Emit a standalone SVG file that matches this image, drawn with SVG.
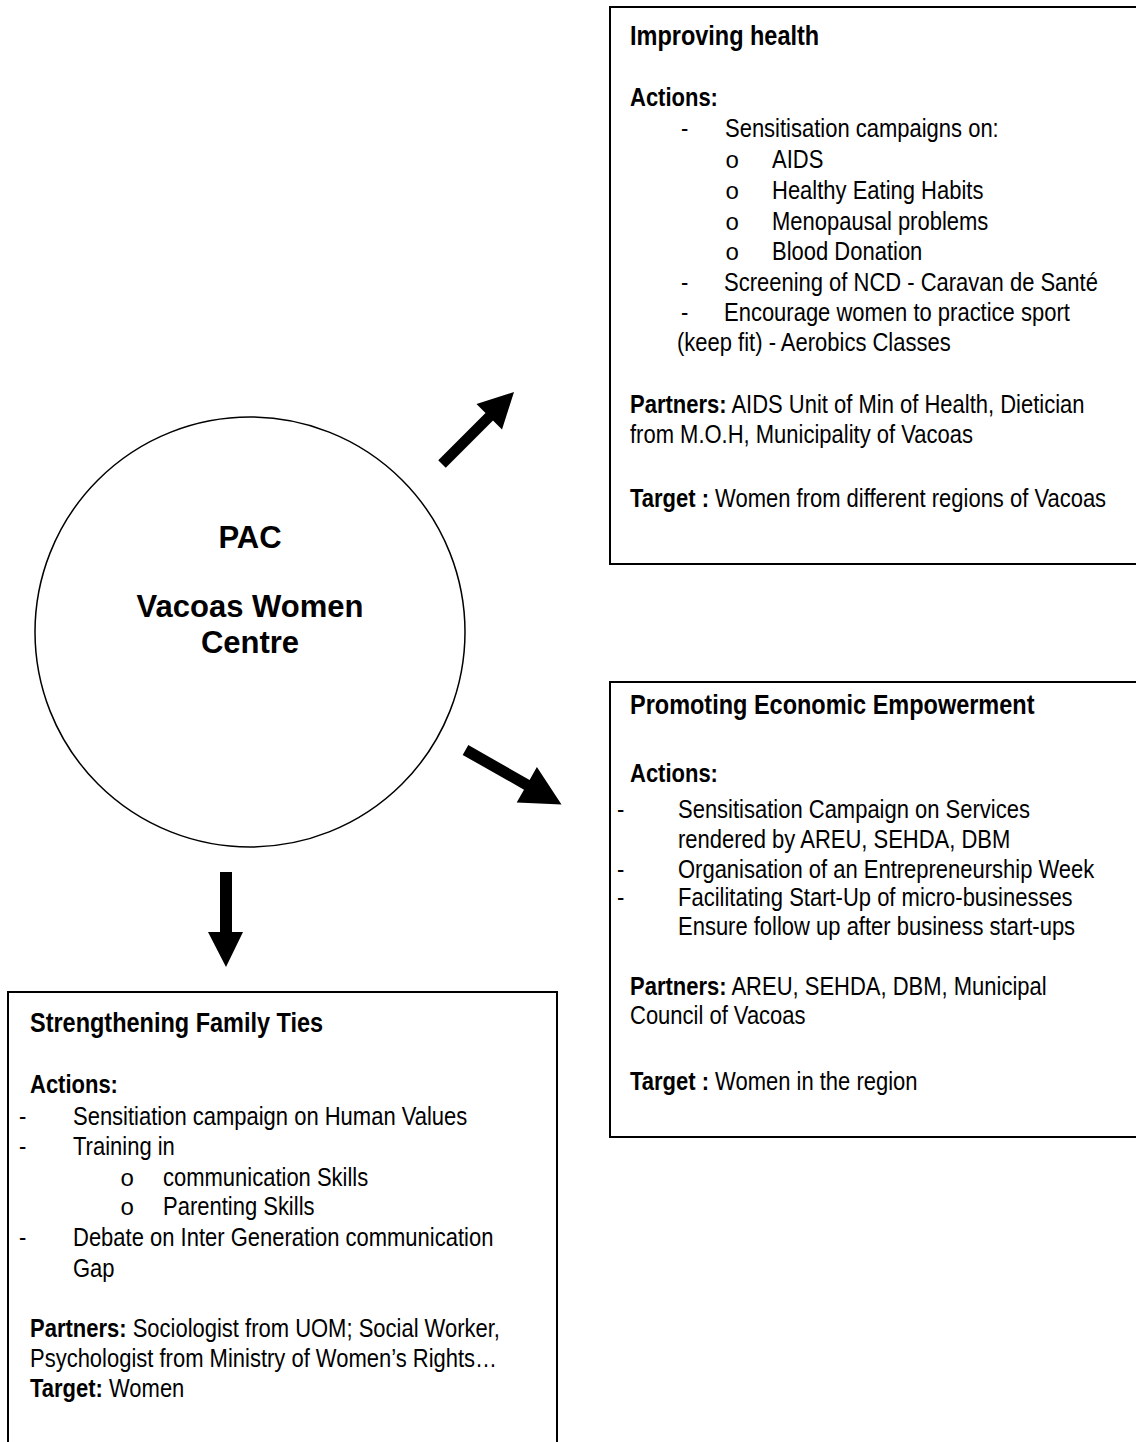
<svg xmlns="http://www.w3.org/2000/svg" width="1136" height="1442" viewBox="0 0 1136 1442">
<style>
.bx{fill:#fff;stroke:#000;stroke-width:2}
.ci{fill:#fff;stroke:#000;stroke-width:1.5}
.t{font-family:"Liberation Sans",Arial,sans-serif;font-size:22px;fill:#000}
.b{font-weight:bold}
.h{font-size:23.5px;font-weight:bold}
.m{font-family:"Liberation Mono","Courier New",monospace;font-size:24px;fill:#000}
.c{font-family:"Liberation Sans",Arial,sans-serif;font-size:31px;font-weight:bold;text-anchor:middle;fill:#000}
.ar{fill:#000;stroke:none}
</style>
<g id="connectors">
<polygon class="ar" points="438.25,460.25 485.5,413 476.5,404 514,392 502,429.5 493,420.5 445.75,467.75"/>
<polygon class="ar" points="468.3,745.1 529.6,779.9 536.9,767 561.5,804.6 516.7,802.6 524,789.7 462.7,754.9"/>
<polygon class="ar" points="220,872 232,872 232,932 243,932 226,967 208,932 220,932"/>
</g>
<g id="centre">
<circle class="ci" cx="250" cy="632" r="215"/>
<text class="c" x="250" y="548">PAC</text>
<text class="c" x="250" y="617">Vacoas Women</text>
<text class="c" x="250" y="653">Centre</text>
</g>
<g id="health">
<rect class="bx" x="610" y="7" width="540" height="557"/>
<text class="t h" transform="translate(630 45) scale(1 1.2)">Improving health</text>
<text class="t b" transform="translate(630 106) scale(1 1.2)">Actions:</text>
<text class="t" transform="translate(681 137) scale(1 1.2)">-</text>
<text class="t" transform="translate(725 137) scale(1 1.2)">Sensitisation campaigns on:</text>
<text class="m" x="725" y="168">o</text>
<text class="t" transform="translate(772 168) scale(1 1.2)">AIDS</text>
<text class="m" x="725" y="199">o</text>
<text class="t" transform="translate(772 199) scale(1 1.2)">Healthy Eating Habits</text>
<text class="m" x="725" y="230">o</text>
<text class="t" transform="translate(772 230) scale(1 1.2)">Menopausal problems</text>
<text class="m" x="725" y="260">o</text>
<text class="t" transform="translate(772 260) scale(1 1.2)">Blood Donation</text>
<text class="t" transform="translate(681 291) scale(1 1.2)">-</text>
<text class="t" transform="translate(724 291) scale(1 1.2)">Screening of NCD - Caravan de Santé</text>
<text class="t" transform="translate(681 321) scale(1 1.2)">-</text>
<text class="t" transform="translate(724 321) scale(1 1.2)">Encourage women to practice sport</text>
<text class="t" transform="translate(677 351) scale(1 1.2)">(keep fit) - Aerobics Classes</text>
<text class="t" transform="translate(630 413) scale(1 1.2)"><tspan class="b">Partners:</tspan> AIDS Unit of Min of Health, Dietician</text>
<text class="t" transform="translate(630 443) scale(1 1.2)">from M.O.H, Municipality of Vacoas</text>
<text class="t" transform="translate(630 507) scale(1 1.2)"><tspan class="b">Target :</tspan> Women from different regions of Vacoas</text>
</g>
<g id="economic">
<rect class="bx" x="610" y="682" width="540" height="455"/>
<text class="t h" transform="translate(630 714) scale(1 1.2)">Promoting Economic Empowerment</text>
<text class="t b" transform="translate(630 782) scale(1 1.2)">Actions:</text>
<text class="t" transform="translate(617 818) scale(1 1.2)">-</text>
<text class="t" transform="translate(678 818) scale(1 1.2)">Sensitisation Campaign on Services</text>
<text class="t" transform="translate(678 848) scale(1 1.2)">rendered by AREU, SEHDA, DBM</text>
<text class="t" transform="translate(617 878) scale(1 1.2)">-</text>
<text class="t" transform="translate(678 878) scale(1 1.2)">Organisation of an Entrepreneurship Week</text>
<text class="t" transform="translate(617 906) scale(1 1.2)">-</text>
<text class="t" transform="translate(678 906) scale(1 1.2)">Facilitating Start-Up of micro-businesses</text>
<text class="t" transform="translate(678 935) scale(1 1.2)">Ensure follow up after business start-ups</text>
<text class="t" transform="translate(630 995) scale(1 1.2)"><tspan class="b">Partners:</tspan> AREU, SEHDA, DBM, Municipal</text>
<text class="t" transform="translate(630 1024) scale(1 1.2)">Council of Vacoas</text>
<text class="t" transform="translate(630 1090) scale(1 1.2)"><tspan class="b">Target :</tspan> Women in the region</text>
</g>
<g id="family">
<rect class="bx" x="8" y="992" width="549" height="470"/>
<text class="t h" transform="translate(30 1032) scale(1 1.2)">Strengthening Family Ties</text>
<text class="t b" transform="translate(30 1093) scale(1 1.2)">Actions:</text>
<text class="t" transform="translate(19 1125) scale(1 1.2)">-</text>
<text class="t" transform="translate(73 1125) scale(1 1.2)">Sensitiation campaign on Human Values</text>
<text class="t" transform="translate(19 1155) scale(1 1.2)">-</text>
<text class="t" transform="translate(73 1155) scale(1 1.2)">Training in</text>
<text class="m" x="120" y="1186">o</text>
<text class="t" transform="translate(163 1186) scale(1 1.2)">communication Skills</text>
<text class="m" x="120" y="1215">o</text>
<text class="t" transform="translate(163 1215) scale(1 1.2)">Parenting Skills</text>
<text class="t" transform="translate(19 1246) scale(1 1.2)">-</text>
<text class="t" transform="translate(73 1246) scale(1 1.2)">Debate on Inter Generation communication</text>
<text class="t" transform="translate(73 1277) scale(1 1.2)">Gap</text>
<text class="t" transform="translate(30 1337) scale(1 1.2)"><tspan class="b">Partners:</tspan> Sociologist from UOM; Social Worker,</text>
<text class="t" transform="translate(30 1367) scale(1 1.2)">Psychologist from Ministry of Women’s Rights…</text>
<text class="t" transform="translate(30 1397) scale(1 1.2)"><tspan class="b">Target:</tspan> Women</text>
</g>
</svg>
